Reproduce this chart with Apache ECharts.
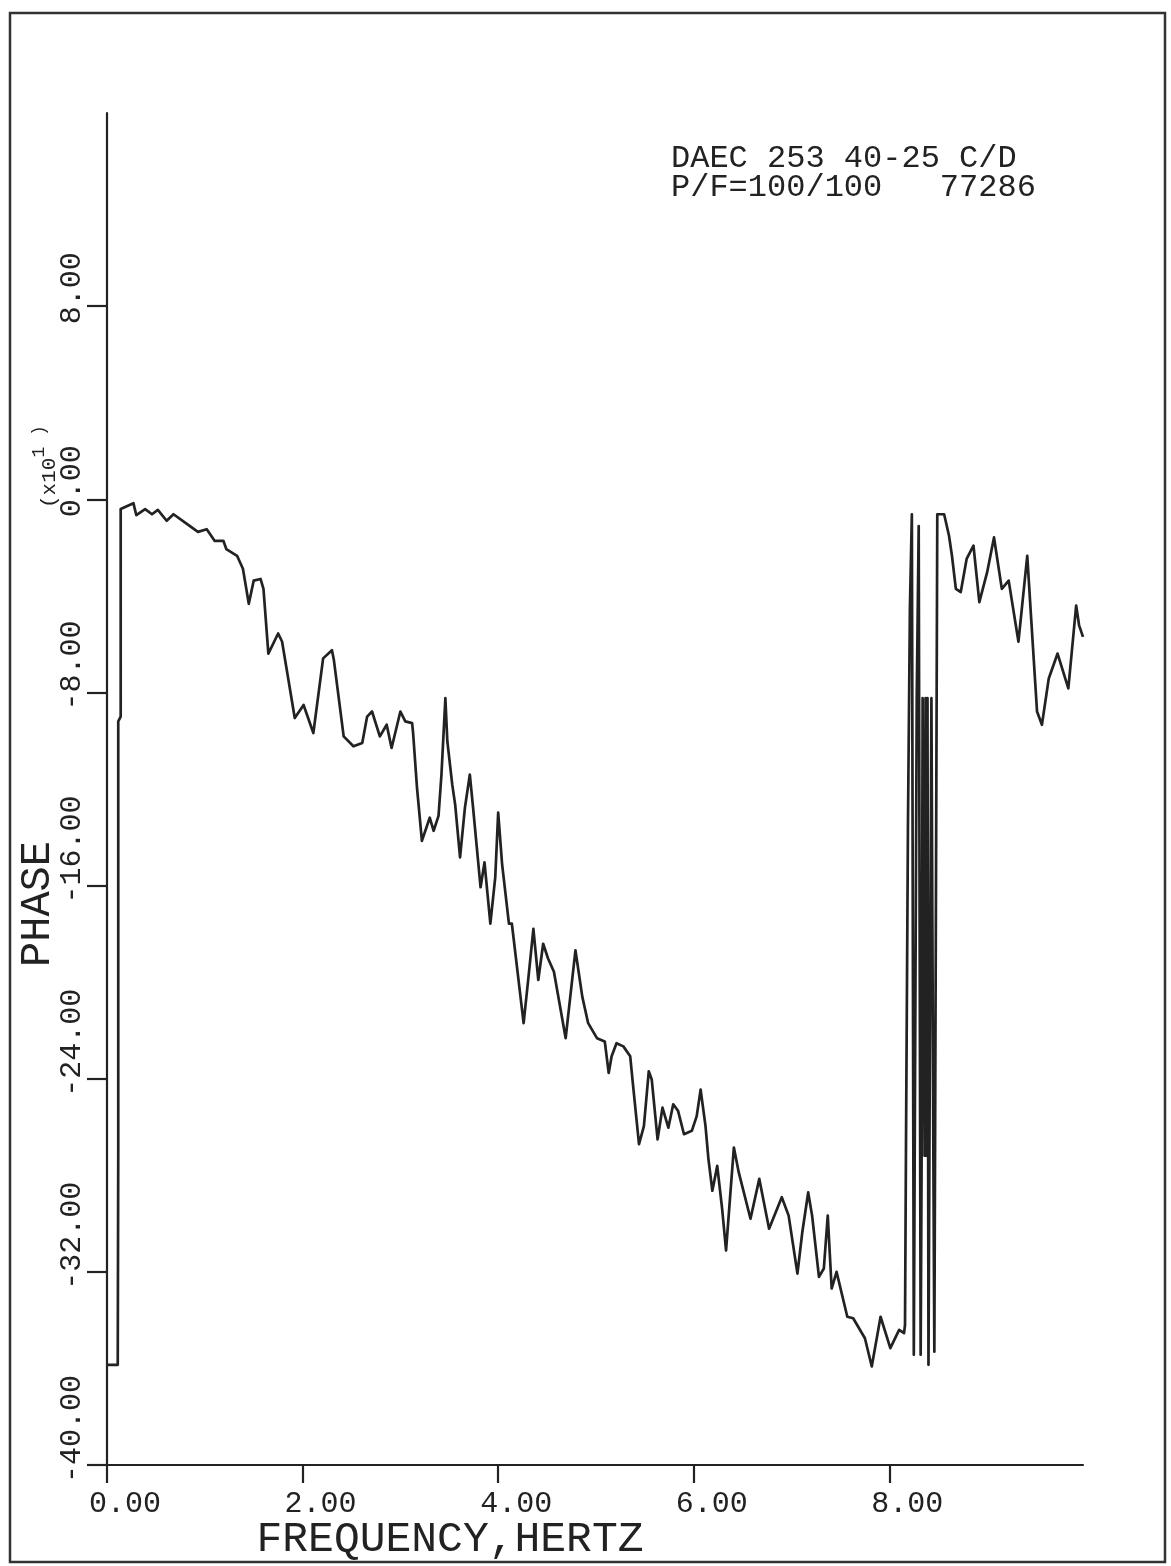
<!DOCTYPE html>
<html>
<head>
<meta charset="utf-8">
<script src="https://cdn.jsdelivr.net/npm/echarts@6/dist/echarts.min.js"></script>
<style>
  html, body { margin: 0; padding: 0; background: #ffffff; }
  #chart { width: 1171px; height: 1566px; }
</style>
</head>
<body>
<div id="chart"></div>
<script>
// ---- data (phase in units of x10 degrees) ----
const freq = [
  0.01, 0.11, 0.115, 0.115, 0.14, 0.14,
  0.15, 0.27, 0.30, 0.39, 0.46, 0.52, 0.61, 0.68, 0.82, 0.93, 1.02, 1.10, 1.19, 1.22,
  1.33, 1.39, 1.45, 1.50, 1.57, 1.60, 1.65, 1.75, 1.79, 1.92, 2.01, 2.11, 2.21, 2.30,
  2.32, 2.42, 2.52, 2.61, 2.66, 2.71, 2.79, 2.86, 2.91, 3.00, 3.05, 3.12,
  3.13, 3.17, 3.22, 3.30, 3.34, 3.39, 3.42, 3.46, 3.48, 3.53, 3.56, 3.61, 3.66, 3.71,
  3.74, 3.82, 3.86, 3.92, 3.97, 4.00, 4.04, 4.11, 4.14, 4.26, 4.31, 4.36, 4.41, 4.46,
  4.51, 4.57, 4.69, 4.79, 4.86, 4.92,
  5.01, 5.09, 5.13, 5.16, 5.21, 5.28, 5.35, 5.38, 5.44, 5.49, 5.54, 5.57, 5.63, 5.68,
  5.74, 5.79, 5.84, 5.90, 5.98, 6.03, 6.07, 6.12, 6.15, 6.19, 6.24, 6.29, 6.33, 6.37,
  6.41, 6.46, 6.58, 6.67, 6.77, 6.90, 6.97, 7.06, 7.11, 7.17, 7.21, 7.28, 7.33, 7.37,
  7.41, 7.46, 7.57, 7.63, 7.75,
  7.82, 7.91, 8.01, 8.10, 8.15,
  8.16, 8.17, 8.18, 8.19, 8.20, 8.21, 8.22, 8.23, 8.24, 8.25, 8.27, 8.28, 8.30, 8.31,
  8.32, 8.33, 8.34, 8.36, 8.37, 8.38, 8.39, 8.40, 8.42, 8.43, 8.45, 8.46, 8.48, 8.49,
  8.56, 8.61, 8.64, 8.68, 8.73, 8.79, 8.86, 8.92, 9.00, 9.07, 9.15, 9.22, 9.32, 9.41,
  9.45, 9.51, 9.56, 9.63, 9.72, 9.83, 9.91, 9.94, 9.98
];
const phase = [
  -35.85, -35.85, -27.0, -9.2, -9.0, -0.4,
  -0.38, -0.16, -0.66, -0.41, -0.62, -0.44, -0.89, -0.62, -1.03, -1.35, -1.24, -1.72, -1.72, -2.06,
  -2.34, -2.88, -4.33, -3.37, -3.30, -3.71, -6.39, -5.56, -5.89, -9.06, -8.52, -9.68, -6.59, -6.25,
  -6.66, -9.82, -10.23, -10.09, -9.0, -8.79, -9.82, -9.34, -10.3, -8.79, -9.2, -9.27,
  -9.68, -11.95, -14.15, -13.19, -13.73, -13.11, -11.4, -8.24, -10.02, -11.81, -12.64, -14.83, -12.77, -11.4,
  -12.64, -16.07, -15.04, -17.58, -15.66, -12.98, -15.11, -17.58, -17.58, -21.7, -19.78, -17.79, -19.91, -18.41,
  -19.02, -19.57, -22.32, -18.68, -20.6, -21.7,
  -22.32, -22.46, -23.76, -23.07, -22.53, -22.66, -23.07, -24.31, -26.71, -25.96, -23.69, -24.03, -26.51, -25.2,
  -26.03, -25.06, -25.34, -26.3, -26.16, -25.55, -24.45, -25.96, -27.33, -28.64, -27.61, -29.39, -31.11, -28.98,
  -26.85, -27.88, -29.8, -28.15, -30.21, -28.91, -29.67, -32.07, -30.35, -28.71, -29.67, -32.21, -31.86, -29.67,
  -32.69, -32.0, -33.86, -33.92, -34.75,
  -35.92, -33.86, -35.16, -34.4, -34.54,
  -34.2, -26.78, -26.78, -13.6, -13.6, -4.53, -4.53, -0.62, -0.62, -35.43, -35.43, -8.24, -1.11, -1.11,
  -35.43, -27.19, -8.24, -27.19, -8.24, -27.19, -8.24, -35.85, -35.85, -8.24, -27.19, -35.31, -35.31, -0.62,
  -0.62, -1.51, -2.34, -3.71, -3.84, -2.47, -1.92, -4.26, -3.02, -1.58, -3.71, -3.37, -5.9, -2.34,
  -4.94, -8.79, -9.34, -7.42, -6.39, -7.83, -4.4, -5.22, -5.7
];
const xTickValues = [0, 2, 4, 6, 8];
const yTickValues = [-40, -32, -24, -16, -8, 0, 8];
const xTitle = 'FREQUENCY,HERTZ';
const yTitle = 'PHASE';
const noteLines = ['DAEC 253 40-25 C/D', 'P/F=100/100   77286'];

const points = freq.map((f, i) => [f, phase[i]]);
const INK = '#222222';
const FONT = 'Liberation Mono';

const chart = echarts.init(document.getElementById('chart'), null, { renderer: 'canvas' });
chart.setOption({
  animation: false,
  backgroundColor: '#ffffff',
  title: {
    text: noteLines.join('\n'),
    left: 671,
    top: 144,
    padding: 0,
    textStyle: { fontFamily: FONT, fontSize: 32, lineHeight: 29, fontWeight: 'normal', color: INK }
  },
  grid: { left: 107, top: 113, width: 976, bottom: 95, containLabel: false },
  xAxis: {
    type: 'value',
    min: 0,
    max: 9.98,
    interval: 2,
    name: xTitle,
    nameLocation: 'middle',
    nameGap: 53,
    nameMoveOverlap: false,
    nameTextStyle: { fontFamily: FONT, fontSize: 43, color: INK, padding: [0, 290, 0, 0] },
    axisLine: { onZero: false, lineStyle: { color: INK, width: 2.2 } },
    axisTick: { show: true, length: 18, customValues: xTickValues, lineStyle: { color: INK, width: 2.2 } },
    axisLabel: {
      fontFamily: FONT, fontSize: 30, color: INK, margin: 24,
      align: 'left', padding: [0, 0, 0, -18],
      customValues: xTickValues,
      formatter: v => v.toFixed(2)
    },
    splitLine: { show: false }
  },
  yAxis: {
    type: 'value',
    min: -40,
    max: 16,
    interval: 8,
    name: yTitle,
    nameLocation: 'middle',
    nameRotate: 90,
    nameGap: 48,
    nameMoveOverlap: false,
    nameTextStyle: { fontFamily: FONT, fontSize: 42, color: INK, padding: [0, 230, 0, 0] },
    axisLine: { onZero: false, lineStyle: { color: INK, width: 2.2 } },
    axisTick: { show: true, length: 20, customValues: yTickValues, lineStyle: { color: INK, width: 2.2 } },
    axisLabel: {
      fontFamily: FONT, fontSize: 30, color: INK, margin: 20, rotate: 90,
      align: 'left', padding: [0, 0, 0, -18],
      customValues: yTickValues,
      formatter: v => v.toFixed(2)
    },
    splitLine: { show: false }
  },
  graphic: [
    {
      type: 'rect',
      silent: true,
      shape: { x: 10, y: 13, width: 1155, height: 1549 },
      style: { fill: 'none', stroke: '#333333', lineWidth: 2.5 }
    },
    {
      type: 'text',
      silent: true,
      x: 60,
      y: 508,
      rotation: Math.PI / 2,
      style: {
        text: '{a|(x10}{s|1 )}',
        align: 'left',
        verticalAlign: 'bottom',
        fill: INK,
        rich: {
          a: { fontFamily: FONT, fontSize: 21, lineHeight: 30, verticalAlign: 'bottom', fill: INK },
          s: { fontFamily: FONT, fontSize: 18, lineHeight: 30, verticalAlign: 'top', fill: INK }
        }
      }
    }
  ],
  series: [{
    type: 'line',
    data: points,
    showSymbol: false,
    symbol: 'none',
    lineStyle: { color: INK, width: 2.7, join: 'round' },
    silent: true
  }]
});
</script>
</body>
</html>
